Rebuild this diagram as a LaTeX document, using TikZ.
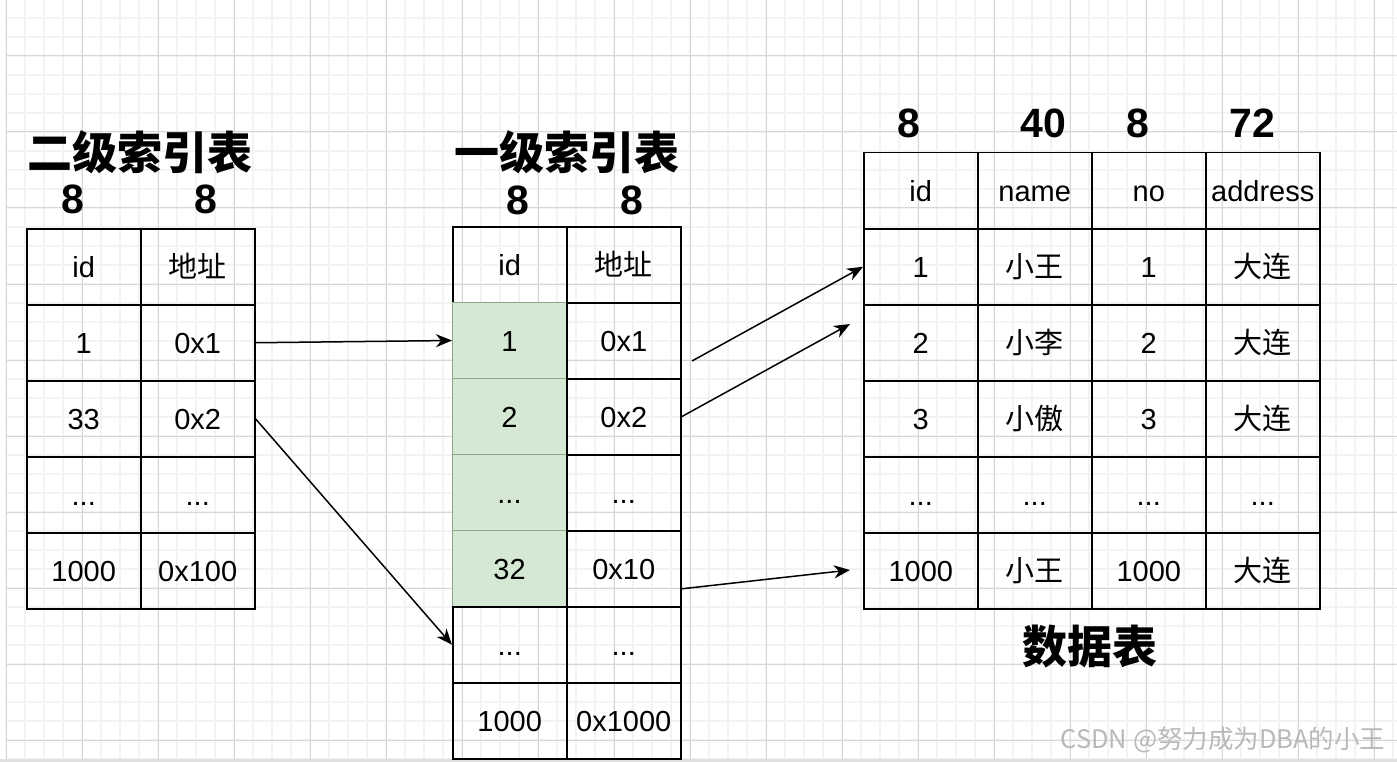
\documentclass[tikz,border=0pt]{standalone}
\usepackage{fontspec}
\setmainfont{Liberation Sans}
\newfontfamily\cjk{Noto Sans CJK SC}
\usetikzlibrary{arrows.meta}
\definecolor{gfill}{HTML}{D5E8D4}
\definecolor{gborder}{HTML}{8FA88C}
\definecolor{minorc}{HTML}{F3F3F3}
\definecolor{majorc}{HTML}{D6D6D6}
\newcommand\mydots{...}
\begin{document}
\begin{tikzpicture}[x=1pt,y=-1pt,
  cell/.style={draw=black, line width=1.5pt, minimum width=114pt, minimum height=76pt,
    inner sep=0pt, anchor=north west, font=\fontsize{29}{34}\selectfont,
    text height=21pt, text depth=0pt},
  gcell/.style={cell, fill=gfill, draw=gborder, line width=1pt},
  ttl/.style={font=\fontsize{45}{50}\selectfont\cjk\bfseries, inner sep=0pt},
  num/.style={font=\fontsize{41}{46}\selectfont\bfseries, inner sep=0pt, text height=29pt, text depth=0pt},
  arr/.style={-{Stealth[length=16pt,width=13pt,inset=5pt]}, line width=1.5pt},
  minorl/.style={draw=minorc, line width=1.6pt},
  majorl/.style={draw=majorc, line width=1pt}]
\useasboundingbox (0,0) rectangle (1397,762);
\fill[white] (0,0) rectangle (1397,762);
% grid
\foreach \x in {6,25,...,1397} \draw[minorl] (\x,0) -- (\x,762);
\foreach \y in {-1,18,...,762} \draw[minorl] (6,\y) -- (1397,\y);
\foreach \x in {6,82,...,1397} \draw[majorl] (\x,0) -- (\x,762);
\foreach \y in {56,132,...,762} \draw[majorl] (6,\y) -- (1397,\y);
\fill[gray!25] (0,759) rectangle (1397,762);

% titles
\node[ttl] (t2) at (140,152) {二级索引表};
\node[ttl] (t1) at (567,152) {一级索引表};
\node[ttl] (td) at (1090,647) {数据表};

% widths
\node[num] (nL1) at (73,199) {8};
\node[num] (nL2) at (206,199) {8};
\node[num] (nM1) at (518,200) {8};
\node[num] (nM2) at (632,200) {8};
\node[num] (nR1) at (909,123) {8};
\node[num] (nR2) at (1043,123) {40};
\node[num] (nR3) at (1138,123) {8};
\node[num] (nR4) at (1252,123) {72};

% left table
\foreach \a/\b [count=\r from 0] in {id/{\cjk 地址}, 1/0x1, 33/0x2, \mydots/\mydots, 1000/0x100}{
  \node[cell] (L\r a) at (26,228+76*\r) {\a};
  \node[cell] (L\r b) at (140,228+76*\r) {\b};
}

% middle table
\node[cell] (M0a) at (452,226) {id};
\node[cell] (M0b) at (566,226) {\cjk 地址};
\foreach \a/\b [count=\r from 1] in {1/0x1, 2/0x2, \mydots/\mydots, 32/0x10}{
  \node[gcell] (M\r a) at (452,226+76*\r) {\a};
  \node[cell] (M\r b) at (566,226+76*\r) {\b};
}
\foreach \a/\b [count=\r from 5] in {\mydots/\mydots, 1000/0x1000}{
  \node[cell] (M\r a) at (452,226+76*\r) {\a};
  \node[cell] (M\r b) at (566,226+76*\r) {\b};
}

% data table
\foreach \a/\b/\c/\d [count=\r from 0] in {id/name/no/address, 1/{\cjk 小王}/1/{\cjk 大连}, 2/{\cjk 小李}/2/{\cjk 大连}, 3/{\cjk 小傲}/3/{\cjk 大连}, \mydots/\mydots/\mydots/\mydots, 1000/{\cjk 小王}/1000/{\cjk 大连}}{
  \node[cell] (R\r a) at (863,152+76*\r) {\a};
  \node[cell] (R\r b) at (977,152+76*\r) {\b};
  \node[cell] (R\r c) at (1091,152+76*\r) {\c};
  \node[cell] (R\r d) at (1205,152+76*\r) {\d};
}

% arrows
\coordinate (a3s) at (692,361);
\coordinate (a4e) at (850,324);
\coordinate (a5s) at (680,589);
\coordinate (a5e) at (850,570);
\draw[arr] (L1b.east) -- (M1a.west);
\draw[arr] (L2b.east) -- (M5a.west);
\draw[arr] (a3s) -- (R1a.west);
\draw[arr] (M2b.east) -- (a4e);
\draw[arr] (a5s) -- (a5e);

% watermark
\node[font=\fontsize{25.5}{30}\selectfont\cjk, text=gray!55, inner sep=0pt] (wm) at (1223,740) {CSDN @努力成为DBA的小王};
\end{tikzpicture}
\end{document}
